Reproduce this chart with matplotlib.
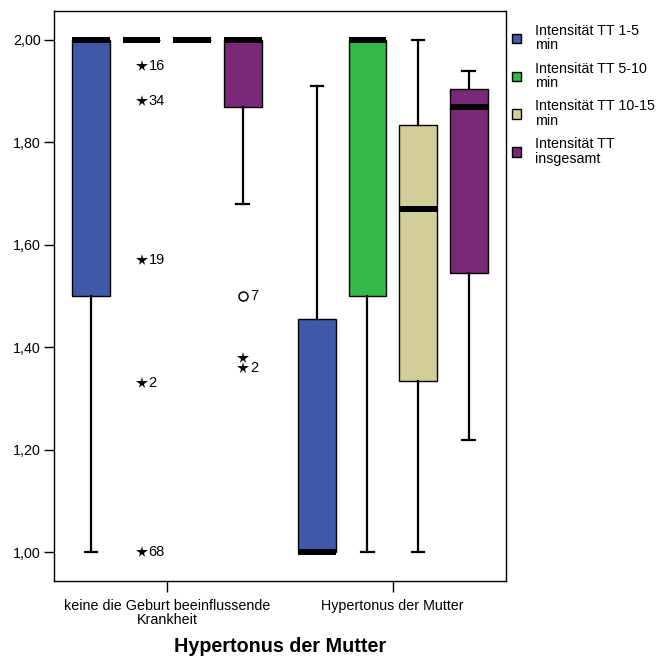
import matplotlib
matplotlib.use("Agg")
import matplotlib.pyplot as plt
from matplotlib.patches import Patch
from matplotlib.ticker import FuncFormatter

plt.rcParams['font.family'] = ['Liberation Sans', 'DejaVu Sans']

groups = ['keine die Geburt beeinflussende\nKrankheit', 'Hypertonus der Mutter']
series = ['Intensität TT 1-5\nmin', 'Intensität TT 5-10\nmin',
          'Intensität TT 10-15\nmin', 'Intensität TT\ninsgesamt']
colors = ['#3F58A8', '#33B84A', '#D3CD98', '#7A2878']

# box statistics per group, one entry per series
q1 = [[1.50, 2.00, 2.00, 1.87], [1.00, 1.50, 1.335, 1.545]]
med = [[2.00, 2.00, 2.00, 2.00], [1.00, 2.00, 1.67, 1.87]]
q3 = [[2.00, 2.00, 2.00, 2.00], [1.455, 2.00, 1.835, 1.905]]
whislo = [[1.00, 2.00, 2.00, 1.68], [1.00, 1.00, 1.00, 1.22]]
whishi = [[2.00, 2.00, 2.00, 2.00], [1.91, 2.00, 2.00, 1.94]]

# outliers: group, series, value, case label, marker ('*' extreme, 'o' outlier)
out_group = [0, 0, 0, 0, 0, 0, 0, 0]
out_series = [1, 1, 1, 1, 1, 3, 3, 3]
out_value = [1.95, 1.88, 1.57, 1.33, 1.00, 1.50, 1.38, 1.36]
out_label = ['16', '34', '19', '2', '68', '7', '', '2']
out_marker = ['*', '*', '*', '*', '*', 'o', '*', '*']

offsets = [-0.336, -0.112, 0.112, 0.336]
box_w = 0.167

fig = plt.figure(figsize=(6.56, 6.57), dpi=100)
ax = fig.add_axes([0.0823, 0.1161, 0.6886, 0.8672])

for s in range(len(series)):
    stats = []
    pos = []
    for g in range(len(groups)):
        stats.append(dict(med=med[g][s], q1=q1[g][s], q3=q3[g][s],
                          whislo=whislo[g][s], whishi=whishi[g][s], fliers=[]))
        pos.append(g + 1 + offsets[s])
    ax.bxp(stats, positions=pos, widths=box_w, capwidths=0.056,
           patch_artist=True, showfliers=False, manage_ticks=False,
           boxprops=dict(facecolor=colors[s], edgecolor='black', linewidth=1.0),
           whiskerprops=dict(color='black', linewidth=1.6),
           capprops=dict(color='black', linewidth=1.6),
           medianprops=dict(color='black', linewidth=4.3, solid_capstyle='butt'))

for g, s, v, lab, m in zip(out_group, out_series, out_value, out_label, out_marker):
    x = g + 1 + offsets[s]
    if m == 'o':
        ax.plot(x, v, 'o', ms=6.5, mfc='white', mec='black', mew=1.1)
    else:
        ax.plot(x, v, '*', ms=8.5, color='black', mew=0)
    if lab:
        ax.annotate(lab, (x, v), xytext=(5, 0), textcoords='offset points',
                    ha='left', va='center', fontsize=10.5)

ax.set_xlim(0.5, 2.5)
ax.set_ylim(0.9446, 2.0566)
ax.set_yticks([1.0, 1.2, 1.4, 1.6, 1.8, 2.0])
ax.yaxis.set_major_formatter(FuncFormatter(lambda v, p: f'{v:.2f}'.replace('.', ',')))
ax.set_xticks([1, 2])
ax.set_xticklabels(groups, fontsize=10.3, linespacing=1.0)
ax.tick_params(axis='y', direction='out', length=7.5, width=1.0, labelsize=10.3, pad=2)
ax.tick_params(axis='x', direction='out', length=8, width=1.0, pad=5)
for sp in ax.spines.values():
    sp.set_linewidth(1.0)
ax.set_xlabel('Hypertonus der Mutter', fontsize=14.2, fontweight='bold', labelpad=7)

handles = [Patch(facecolor=c, edgecolor='black', linewidth=1.0) for c in colors]
leg = ax.legend(handles, series, loc='upper left', bbox_to_anchor=(1.0, 0.989),
                frameon=False, fontsize=10.3, handlelength=0.62, handleheight=0.62,
                handletextpad=0.95, labelspacing=0.65, borderpad=0.0,
                borderaxespad=0.45)
for t in leg.get_texts():
    t.set_linespacing(1.05)

fig.savefig('out.png', dpi=100)
